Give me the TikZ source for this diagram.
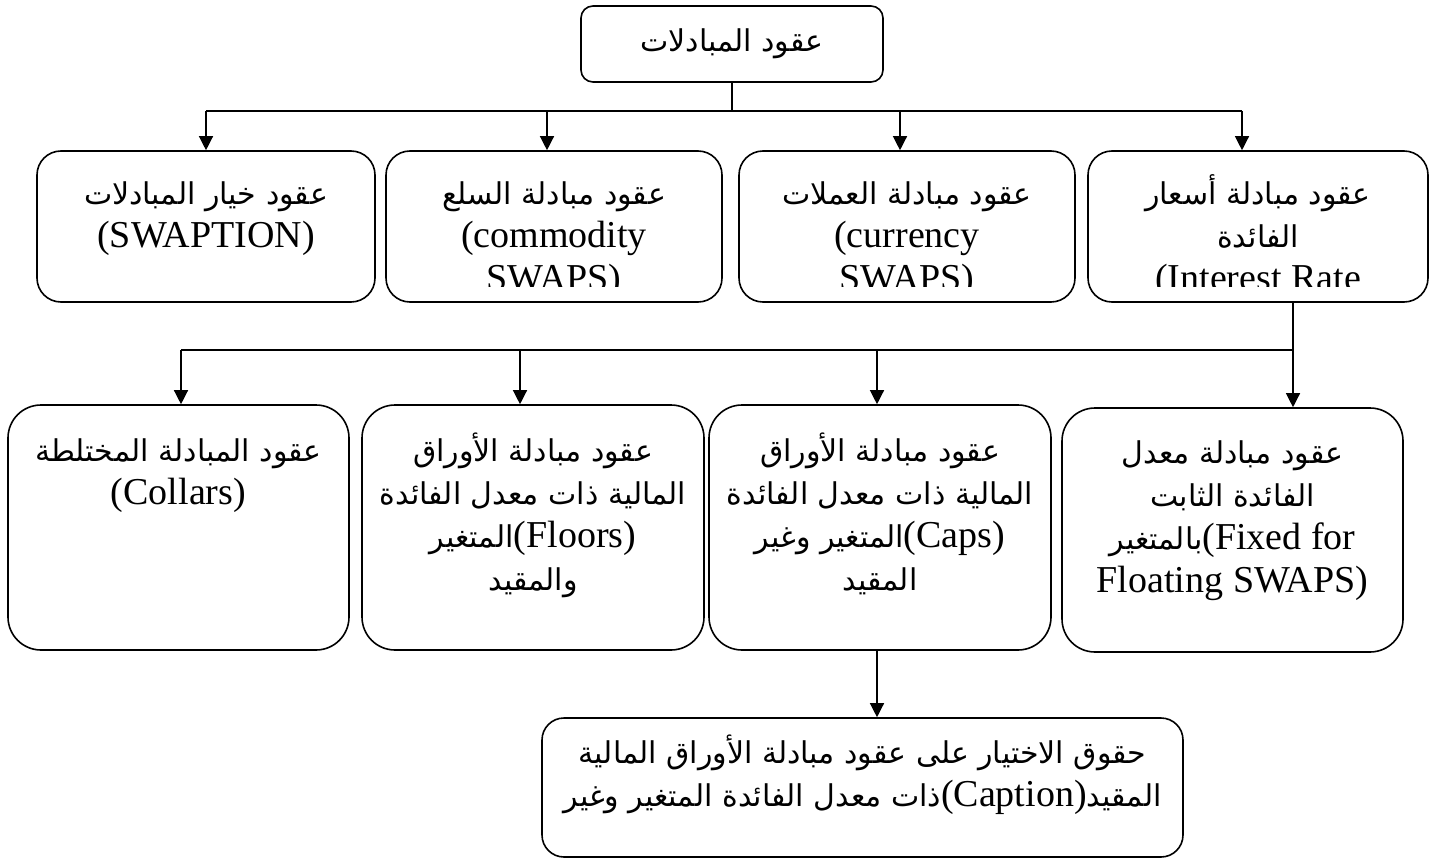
\documentclass[tikz,border=0pt]{standalone}
\usepackage{fontspec}
\setmainfont{Liberation Serif}
\newfontfamily\arabicfont[Script=Arabic]{DejaVu Sans}
\TeXXeTstate=1
\usetikzlibrary{arrows.meta}

% one right-to-left line of Arabic text
\newcommand{\arline}[1]{{\fontsize{30}{43}\selectfont\arabicfont\beginR #1\endR}}
% a left-to-right run of Latin text inside an Arabic line
\newcommand{\latinrun}[1]{\beginL{\rmfamily\fontsize{38}{43}\selectfont #1}\endL}
% fixes the height of the first line of every label
\newcommand{\firstline}{\rule{0pt}{32pt}}

\begin{document}
\lineskiplimit=-100pt
\begin{tikzpicture}[x=1pt,y=-1pt,
  box/.style={draw, line width=1.6pt, rounded corners=#1, inner sep=0pt},
  lbl/.style={align=center, anchor=north, inner sep=0pt,
    font=\fontsize{38}{43}\selectfont},
  link/.style={line width=1.3pt},
  arr/.style={line width=1.3pt, -{Triangle[width=14pt,length=14pt]}}]

\useasboundingbox (0,0) rectangle (1437,861);

% ---- boxes ----
\node[box=12pt, minimum width=302pt, minimum height=76pt] (top) at (732,44) {};

\node[box=24pt, minimum width=338pt, minimum height=151pt] (sA) at (206,226.5) {};
\node[box=24pt, minimum width=336pt, minimum height=151pt] (sB) at (554,226.5) {};
\node[box=24pt, minimum width=336pt, minimum height=151pt] (sC) at (907,226.5) {};
\node[box=24pt, minimum width=340pt, minimum height=151pt] (sD) at (1258,226.5) {};

\node[box=33pt, minimum width=341pt, minimum height=245pt] (sE) at (178.5,527.5) {};
\node[box=33pt, minimum width=342pt, minimum height=245pt] (sF) at (533,527.5) {};
\node[box=33pt, minimum width=342pt, minimum height=245pt] (sG) at (880,527.5) {};
\node[box=33pt, minimum width=341pt, minimum height=244pt] (sH) at (1232.5,530) {};

\node[box=22pt, minimum width=641pt, minimum height=139pt] (sI) at (862.5,787.5) {};

% ---- labels ----
\node[lbl] (tTop) at (732,19) {\firstline\arline{عقود المبادلات}};

\begin{scope}
  \clip (0,140) rectangle (1437,286);
  \node[lbl] (tA) at (206,172) {\firstline\arline{عقود خيار المبادلات}\\(SWAPTION)};
  \node[lbl] (tB) at (554,172) {\firstline\arline{عقود مبادلة السلع}\\(commodity\\SWAPS)};
  \node[lbl] (tC) at (907,172) {\firstline\arline{عقود مبادلة العملات}\\(currency\\SWAPS)};
  \node[lbl] (tD) at (1258,172) {\firstline\arline{عقود مبادلة أسعار}\\\arline{الفائدة}\\(Interest Rate};
\end{scope}

\node[lbl] (tE) at (178.5,429) {\firstline\arline{عقود المبادلة المختلطة}\\(Collars)};
\node[lbl] (tF) at (533,429) {\firstline\arline{عقود مبادلة الأوراق}\\\arline{المالية ذات معدل الفائدة}\\\arline{\latinrun{(Floors)}المتغير}\\\arline{والمقيد}};
\node[lbl] (tG) at (880,429) {\firstline\arline{عقود مبادلة الأوراق}\\\arline{المالية ذات معدل الفائدة}\\\arline{\latinrun{(Caps)}المتغير وغير}\\\arline{المقيد}};
\node[lbl] (tH) at (1232.5,431) {\firstline\arline{عقود مبادلة معدل}\\\arline{الفائدة الثابت}\\\arline{\latinrun{(Fixed for}بالمتغير}\\Floating SWAPS)};

\node[lbl] (tI) at (862.5,731) {\firstline\arline{حقوق الاختيار على عقود مبادلة الأوراق المالية}\\\arline{المقيد\latinrun{(Caption)}ذات معدل الفائدة المتغير وغير}};

% ---- connectors ----
\coordinate (b1) at (206,111);
\coordinate (b2) at (547,111);
\coordinate (b3) at (900,111);
\coordinate (b4) at (1242,111);
\draw[link] (top.south) -- (top.south |- b1);
\draw[link] (b1) -- (b4);
\draw[arr] (b1) -- (b1 |- sA.north);
\draw[arr] (b2) -- (b2 |- sB.north);
\draw[arr] (b3) -- (b3 |- sC.north);
\draw[arr] (b4) -- (b4 |- sD.north);

\coordinate (c1) at (181,350);
\coordinate (c2) at (520,350);
\coordinate (c3) at (877,350);
\coordinate (c4) at (1293,350);
\draw[link] (sD.south -| c4) -- (c4);
\draw[link] (c1) -- (c4);
\draw[arr] (c1) -- (c1 |- sE.north);
\draw[arr] (c2) -- (c2 |- sF.north);
\draw[arr] (c3) -- (c3 |- sG.north);
\draw[arr] (c4) -- (c4 |- sH.north);

\draw[arr] (sG.south -| c3) -- (c3 |- sI.north);

\end{tikzpicture}
\end{document}
